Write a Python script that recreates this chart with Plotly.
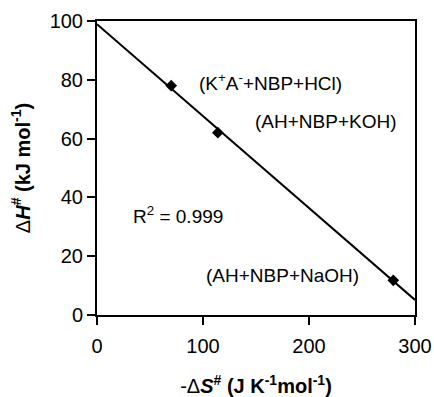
import numpy as np
import plotly.graph_objects as go

# Data
neg_dS = [70, 114, 279.5]        # -ΔS# (J K-1 mol-1)
dH = [78, 62, 11.8]              # ΔH# (kJ mol-1)
labels = ["(K<sup>+</sup>A<sup>-</sup>+NBP+HCl)", "(AH+NBP+KOH)", "(AH+NBP+NaOH)"]
label_x = [164, 216, 175]
label_y = [79.3, 65.7, 13.3]
r2_text = "R<sup>2</sup> = 0.999"
r2_pos = [76, 34]
x_ticks = [0, 100, 200, 300]
y_ticks = [0, 20, 40, 60, 80, 100]

slope, intercept = np.polyfit(neg_dS, dH, 1)
fit_x = np.array([0, 300])
fit_y = slope * fit_x + intercept

FONT = "Liberation Sans, Arial, sans-serif"

fig = go.Figure()
fig.add_trace(go.Scatter(x=fit_x, y=fit_y, mode="lines",
                         line=dict(color="black", width=2), showlegend=False))
fig.add_trace(go.Scatter(x=neg_dS, y=dH, mode="markers",
                         marker=dict(symbol="diamond", color="black", size=9),
                         showlegend=False))

for t, x, y in zip(labels, label_x, label_y):
    fig.add_annotation(x=x, y=y, text=t, showarrow=False,
                       font=dict(family=FONT, size=19, color="black"))
fig.add_annotation(x=r2_pos[0], y=r2_pos[1], text=r2_text, showarrow=False,
                   font=dict(family=FONT, size=19, color="black"))

axis_common = dict(showline=True, linecolor="black", linewidth=2, mirror=True,
                   ticks="outside", ticklen=8, tickwidth=1.5, tickcolor="black",
                   showgrid=False, zeroline=False, automargin=False,
                   tickfont=dict(family=FONT, size=20, color="black"))

fig.update_xaxes(range=[0, 300], tickvals=x_ticks, **axis_common,
                 ticklabelstandoff=4,
                 title=dict(text="-Δ<b><i>S</i><sup>#</sup> (J K<sup>-1</sup>mol<sup>-1</sup>)</b>",
                            font=dict(family=FONT, size=20, color="black"), standoff=24))
fig.update_yaxes(range=[0, 100], tickvals=y_ticks, **axis_common,
                 title=dict(text="Δ<b><i>H</i><sup>#</sup> (kJ mol<sup>-1</sup>)</b>",
                            font=dict(family=FONT, size=20, color="black"), standoff=14))

fig.update_layout(width=434, height=397,
                  margin=dict(l=97, r=19, t=21, b=82),
                  paper_bgcolor="white", plot_bgcolor="white",
                  font=dict(family=FONT, color="black"))

fig.write_html("out.html")
